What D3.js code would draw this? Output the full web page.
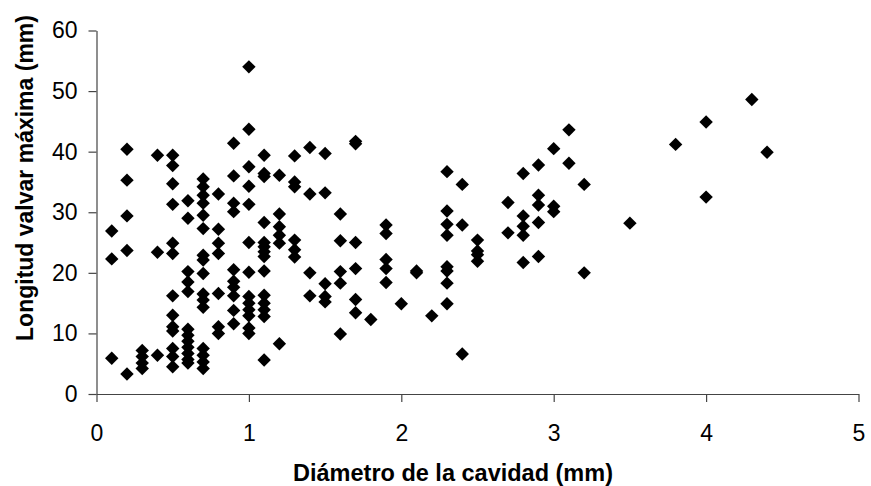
<!DOCTYPE html>
<html><head><meta charset="utf-8">
<script src="https://cdn.jsdelivr.net/npm/d3@7"></script>
<style>body{margin:0;background:#fff}svg{display:block}</style>
</head><body>
<svg id="c" width="871" height="486"></svg>
<script>
// Diámetro (x) groups and Longitud (y) values
const xGroups = [0.1,0.2,0.3,0.4,0.5,0.6,0.7,0.8,0.9,1.0,1.1,1.2,1.3,1.4,1.5,1.6,1.7,1.8,1.9,2.0,2.1,2.2,2.3,2.4,2.5,2.7,2.8,2.9,3.0,3.1,3.2,3.5,3.8,4.0,4.3,4.4];
const yGroups = [
  [26.9,22.3,5.9],
  [40.4,35.3,29.4,23.7,3.3],
  [7.2,6.2,5.1,4.2],
  [39.4,23.4,6.4],
  [39.4,37.7,34.7,31.3,24.9,23.2,16.2,13.0,11.1,10.4,7.5,6.2,4.5],
  [31.9,29.0,20.2,18.5,16.9,10.7,9.7,8.7,7.7,6.7,5.7,5.1],
  [35.5,34.2,32.8,31.5,29.5,27.3,22.9,22.1,19.9,16.5,15.5,14.3,7.5,6.4,5.3,4.2],
  [33.0,27.2,24.9,23.2,16.6,11.1,10.0],
  [41.4,36.0,31.5,30.1,20.5,18.6,17.6,16.2,13.8,11.6],
  [54.0,43.7,37.5,34.3,31.3,25.0,20.1,16.1,15.0,13.9,12.9,10.9,10.0],
  [39.4,36.4,35.9,28.3,25.0,24.3,23.5,22.7,20.3,16.3,15.0,13.9,12.8,5.6],
  [36.1,29.7,27.6,26.2,24.9,8.3],
  [39.3,35.0,34.2,25.4,23.8,22.6],
  [40.7,33.0,20.0,16.2],
  [39.7,33.2,18.2,16.1,15.2],
  [29.7,25.3,20.2,18.3,9.9],
  [41.7,41.3,25.0,20.7,15.6,13.4],
  [12.3],
  [27.9,26.5,22.2,20.7,18.4],
  [14.9],
  [20.3,20.0],
  [12.9],
  [36.7,30.2,28.0,26.2,21.0,20.3,18.3,14.9],
  [34.6,27.9,6.6],
  [25.4,23.6,23.0,21.9],
  [31.6,26.6],
  [36.4,29.4,27.7,26.2,21.7],
  [37.8,32.8,31.2,28.3,22.7],
  [40.5,31.0,30.1],
  [43.6,38.1],
  [34.6,20.0],
  [28.2],
  [41.2],
  [44.9,32.5],
  [48.6],
  [39.9]
];
const xTicks = [0,1,2,3,4,5];
const yTicks = [0,10,20,30,40,50,60];
const xTitle = "Diámetro de la cavidad (mm)";
const yTitle = "Longitud valvar máxima (mm)";

const points = [];
xGroups.forEach((x,i)=>yGroups[i].forEach(y=>points.push({x,y})));

const svg = d3.select("#c");
const m = {left:96.5, right:858.5, top:30.5, bottom:394};
const x = d3.scaleLinear().domain([0,5]).range([m.left,m.right]);
const y = d3.scaleLinear().domain([0,60]).range([m.bottom,m.top]);
const font = "'Liberation Sans', Arial, sans-serif";

const gx = svg.append("g").attr("transform",`translate(0,${m.bottom})`)
  .call(d3.axisBottom(x).tickValues(xTicks).tickSize(8).tickPadding(23).tickSizeOuter(0).tickFormat(d3.format("d")));
const gy = svg.append("g").attr("transform",`translate(${m.left},0)`)
  .call(d3.axisLeft(y).tickValues(yTicks).tickSize(8).tickPadding(11).tickSizeOuter(0).tickFormat(d3.format("d")));
[gx,gy].forEach(g=>{
  g.selectAll("path,line").attr("stroke","#444").attr("stroke-width",1.2);
  g.selectAll("text").attr("font-family",font).attr("font-size",23).attr("fill","#000");
});

svg.append("g").selectAll("path").data(points).join("path")
  .attr("d", d3.symbol(d3.symbolSquare, 90)())
  .attr("transform", d=>`translate(${x(d.x)},${y(d.y)}) rotate(45)`)
  .attr("fill","#000");

svg.append("text").attr("x",453).attr("y",481)
  .attr("text-anchor","middle").attr("font-family",font).attr("font-weight","bold")
  .attr("font-size",23.5).text(xTitle);
svg.append("text").attr("transform",`translate(33,178) rotate(-90)`)
  .attr("text-anchor","middle").attr("font-family",font).attr("font-weight","bold")
  .attr("font-size",23).text(yTitle);
</script>
</body></html>
